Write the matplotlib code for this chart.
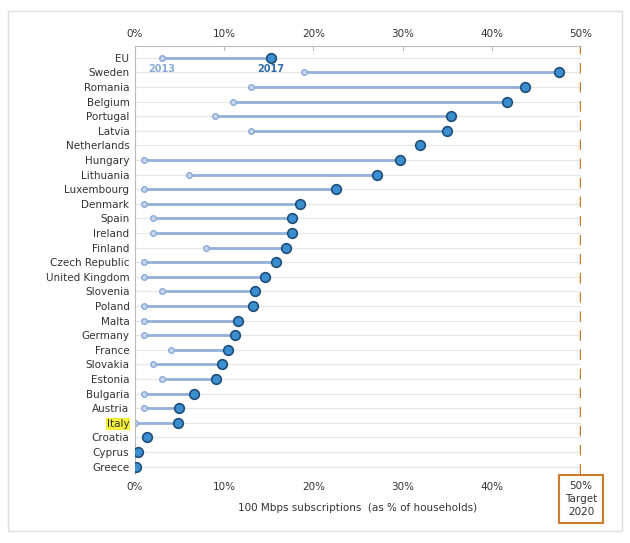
import matplotlib
matplotlib.use("Agg")
import matplotlib.pyplot as plt
import numpy as np

countries = ["EU","Sweden","Romania","Belgium","Portugal","Latvia","Netherlands","Hungary",
             "Lithuania","Luxembourg","Denmark","Spain","Ireland","Finland","Czech Republic",
             "United Kingdom","Slovenia","Poland","Malta","Germany","France","Slovakia","Estonia",
             "Bulgaria","Austria","Italy","Croatia","Cyprus","Greece"]
v2013 = [3,19,13,11,9,13,None,1,6,1,1,2,2,8,1,1,3,1,1,1,4,2,3,1,1,0,None,None,None]
v2017 = [15.2,47.5,43.7,41.7,35.4,35.0,32.0,29.7,27.1,22.5,18.5,17.6,17.6,16.9,15.8,14.6,
         13.4,13.2,11.5,11.2,10.4,9.7,9.1,6.6,4.9,4.8,1.4,0.3,0.1]
ticks = [0,10,20,30,40,50]

W,H = 630,543
fig = plt.figure(figsize=(W/100,H/100), dpi=100)
fig.patch.set_facecolor("white")
ax = fig.add_axes([135/W, 1-474/H, (581-135)/W, (474-46)/H])
n = len(countries)
y = np.arange(n)
for i in range(n):
    ax.axhline(i, color="#e6e6e6", lw=0.8, zorder=0)
    if v2013[i] is not None:
        ax.plot([v2013[i], v2017[i]], [i, i], color="#93b0d8", lw=2, zorder=1)
        ax.plot(v2013[i], i, 'o', ms=4, mfc="#c9d7ee", mec="#8aa9d6", mew=1, zorder=2)
ax.scatter(v2017, y, s=48, c="#3b8fd0", edgecolors="#1f4e79", linewidths=1.2, zorder=3)
ax.axvline(50, color="#d07a2e", lw=2.5, ls=(0,(3,2.5)), zorder=1)
ax.set_xlim(0, 50)
ax.set_ylim(n-0.5, -0.8)
ax.set_yticks(y)
ax.set_yticklabels(countries, fontsize=7.5, color="#333333")
ax.set_xticks(ticks)
ax.set_xticklabels([f"{t}%" for t in ticks[:-1]] + [""], fontsize=7.5, color="#333333")
ax.tick_params(axis='x', length=0, pad=6)
ax.tick_params(axis='y', length=0, pad=4)
for t in ticks:
    ax.text(t, -0.8, f"{t}%", fontsize=7.5, color="#333333", ha="center", va="bottom",
            transform=ax.transData)
    if 0 < t < 50:
        ax.plot([t, t], [-0.8, -0.55], color="#bbbbbb", lw=0.8)
# shift top labels up a bit
for txt in ax.texts:
    txt.set_y(-1.3)
for s in ["top","right","bottom"]:
    ax.spines[s].set_visible(False)
ax.spines["left"].set_color("#bbbbbb")
ax.spines["top"].set_visible(True); ax.spines["top"].set_color("#bbbbbb")
ax.set_xlabel("100 Mbps subscriptions  (as % of households)", fontsize=7.5, color="#333333", labelpad=8)
for lab in ax.get_yticklabels():
    if lab.get_text() == "Italy":
        lab.set_bbox(dict(facecolor="#f5f03a", edgecolor="none", pad=0.5))
ax.text(v2013[0], 0.75, "2013", color="#8aa9d6", fontsize=7, ha="center", va="center", fontweight="bold")
ax.text(v2017[0], 0.75, "2017", color="#2e6aa8", fontsize=7, ha="center", va="center", fontweight="bold")
fig.text(581/W, 1-499/H, "50%\nTarget\n2020", fontsize=7.5, ha="center", va="center", color="#333333",
         linespacing=1.4, bbox=dict(facecolor="white", edgecolor="#d07a2e", lw=1.5, boxstyle="square,pad=0.6"))
fig.patches.append(plt.Rectangle((8/W, 12/H), 614/W, 520/H, transform=fig.transFigure,
                                 fill=False, edgecolor="#dddddd", lw=1))
fig.savefig("out.png", dpi=100)
